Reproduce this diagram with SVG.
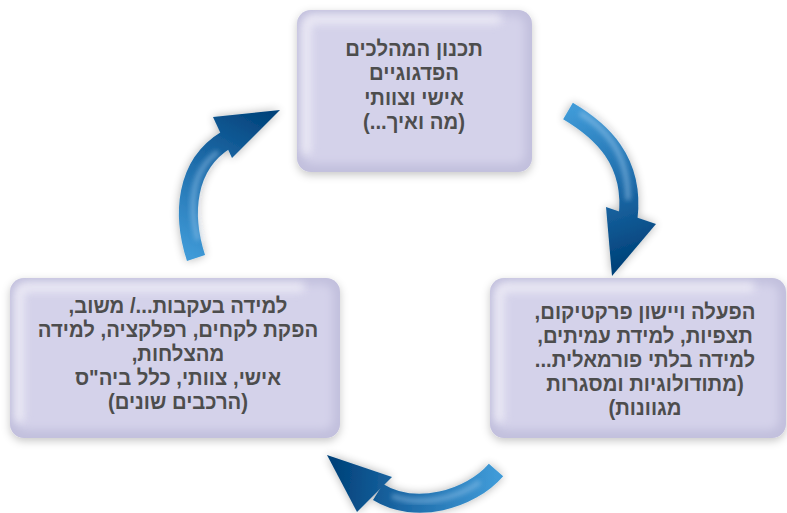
<svg xmlns="http://www.w3.org/2000/svg" width="787" height="513" viewBox="0 0 787 513">
<style>
.base{fill:#c2c0dd;}
.inner{fill:#d4d2ea;}
.hl{fill:none;stroke:#f4f3fa;stroke-width:10;stroke-linecap:round;opacity:0.75;}
.lbl{font-family:"Liberation Sans",Arial,sans-serif;font-size:21.4px;font-weight:bold;fill:#4d4d4d;text-anchor:middle;}
.shaft{fill:none;stroke-width:19;stroke-linecap:butt;}
</style>
<defs>
<filter id="bshadow" x="-10%" y="-10%" width="120%" height="125%">
<feDropShadow dx="0" dy="3" stdDeviation="4" flood-color="#000" flood-opacity="0.22"/>
</filter>
<filter id="soft" x="-10%" y="-10%" width="120%" height="120%">
<feGaussianBlur stdDeviation="4"/>
</filter>
<filter id="ashadow" x="-30%" y="-30%" width="160%" height="160%">
<feGaussianBlur in="SourceAlpha" stdDeviation="5" result="b"/>
<feComponentTransfer in="b" result="c"><feFuncA type="linear" slope="0.3"/></feComponentTransfer>
<feMerge><feMergeNode in="c"/><feMergeNode in="SourceGraphic"/></feMerge>
</filter>
<filter id="ablur" x="-20%" y="-20%" width="140%" height="140%">
<feGaussianBlur stdDeviation="2.5"/>
</filter>
<clipPath id="cTop"><rect width="235" height="162" rx="14"/></clipPath>
<clipPath id="cRight"><rect width="296" height="160" rx="14"/></clipPath>
<clipPath id="cLeft"><rect width="330" height="160" rx="14"/></clipPath>
<linearGradient id="g1" gradientUnits="userSpaceOnUse" x1="568" y1="111" x2="620" y2="265">
<stop offset="0" stop-color="#3f9ad7"/><stop offset="0.55" stop-color="#1d6aa8"/><stop offset="1" stop-color="#00427a"/>
</linearGradient>
<linearGradient id="g2" gradientUnits="userSpaceOnUse" x1="496" y1="470" x2="335" y2="462">
<stop offset="0" stop-color="#3f9ad7"/><stop offset="0.55" stop-color="#1d6aa8"/><stop offset="1" stop-color="#00427a"/>
</linearGradient>
<linearGradient id="g3" gradientUnits="userSpaceOnUse" x1="196" y1="258" x2="272" y2="114">
<stop offset="0" stop-color="#3f9ad7"/><stop offset="0.55" stop-color="#1d6aa8"/><stop offset="1" stop-color="#00427a"/>
</linearGradient>
</defs>
<rect width="787" height="513" fill="#ffffff"/>

<g id="connectors">
<g id="arrow-top-right" filter="url(#ashadow)">
<path class="shaft" stroke="url(#g1)" d="M568,111 C600,130 635,160 628,218"/>
<polygon fill="url(#g1)" points="606,207 656,224 612,276"/>
<path d="M580,113 C605,128 628,152 628,200" fill="none" stroke="#9cc8ec" stroke-width="5" opacity="0.55" filter="url(#ablur)"/>
</g>
<g id="arrow-bottom" filter="url(#ashadow)">
<path class="shaft" stroke="url(#g2)" d="M496,470 C470,500 415,515 378,492"/>
<polygon fill="url(#g2)" points="392,477 357,512 327,455"/>
<path d="M480,482 C455,500 420,506 392,496" fill="none" stroke="#9cc8ec" stroke-width="5" opacity="0.5" filter="url(#ablur)"/>
</g>
<g id="arrow-left" filter="url(#ashadow)">
<path class="shaft" stroke="url(#g3)" d="M196,258 C182,215 185,165 226,140"/>
<polygon fill="url(#g3)" points="213,117 280,110 232,158"/>
<path d="M198,240 C188,205 192,170 218,152" fill="none" stroke="#9cc8ec" stroke-width="5" opacity="0.5" filter="url(#ablur)"/>
</g>
</g>

<g id="node-top" transform="translate(297,10)">
<rect class="base" width="235" height="162" rx="14" filter="url(#bshadow)"/>
<g clip-path="url(#cTop)">
<rect class="inner" x="6" y="6" width="222" height="148" rx="10" filter="url(#soft)"/>
<path class="hl" d="M9,140 L9,18 Q9,9 18,9 L200,9" filter="url(#soft)"/>
</g>
<g transform="translate(117,0) scale(0.95,1)">
<text class="lbl" direction="rtl" x="0" y="46"><tspan x="0" y="46">תכנון המהלכים</tspan><tspan x="0" y="70">הפדגוגיים</tspan><tspan x="0" y="95">אישי וצוותי</tspan><tspan x="0" y="119">(מה ואיך...)</tspan></text>
</g>
</g>

<g id="node-right" transform="translate(490,278)">
<rect class="base" width="296" height="160" rx="14" filter="url(#bshadow)"/>
<g clip-path="url(#cRight)">
<rect class="inner" x="6" y="6" width="283" height="146" rx="10" filter="url(#soft)"/>
<path class="hl" d="M9,140 L9,18 Q9,9 18,9 L260,9" filter="url(#soft)"/>
</g>
<g transform="translate(155,0) scale(0.95,1)">
<text class="lbl" direction="rtl" x="0" y="41"><tspan x="0" y="41">הפעלה ויישון פרקטיקום,</tspan><tspan x="0" y="65">תצפיות, למידת עמיתים,</tspan><tspan x="0" y="89">למידה בלתי פורמאלית...</tspan><tspan x="0" y="113">(מתודולוגיות ומסגרות</tspan><tspan x="0" y="137">מגוונות)</tspan></text>
</g>
</g>

<g id="node-left" transform="translate(10,278)">
<rect class="base" width="330" height="160" rx="14" filter="url(#bshadow)"/>
<g clip-path="url(#cLeft)">
<rect class="inner" x="6" y="6" width="317" height="146" rx="10" filter="url(#soft)"/>
<path class="hl" d="M9,140 L9,18 Q9,9 18,9 L290,9" filter="url(#soft)"/>
</g>
<g transform="translate(168,0) scale(0.95,1)">
<text class="lbl" direction="rtl" x="0" y="35"><tspan x="0" y="35">למידה בעקבות.../ משוב,</tspan><tspan x="0" y="59">הפקת לקחים, רפלקציה, למידה</tspan><tspan x="0" y="83">מהצלחות,</tspan><tspan x="0" y="107">אישי, צוותי, כלל ביה"ס</tspan><tspan x="0" y="131">(הרכבים שונים)</tspan></text>
</g>
</g>
</svg>
